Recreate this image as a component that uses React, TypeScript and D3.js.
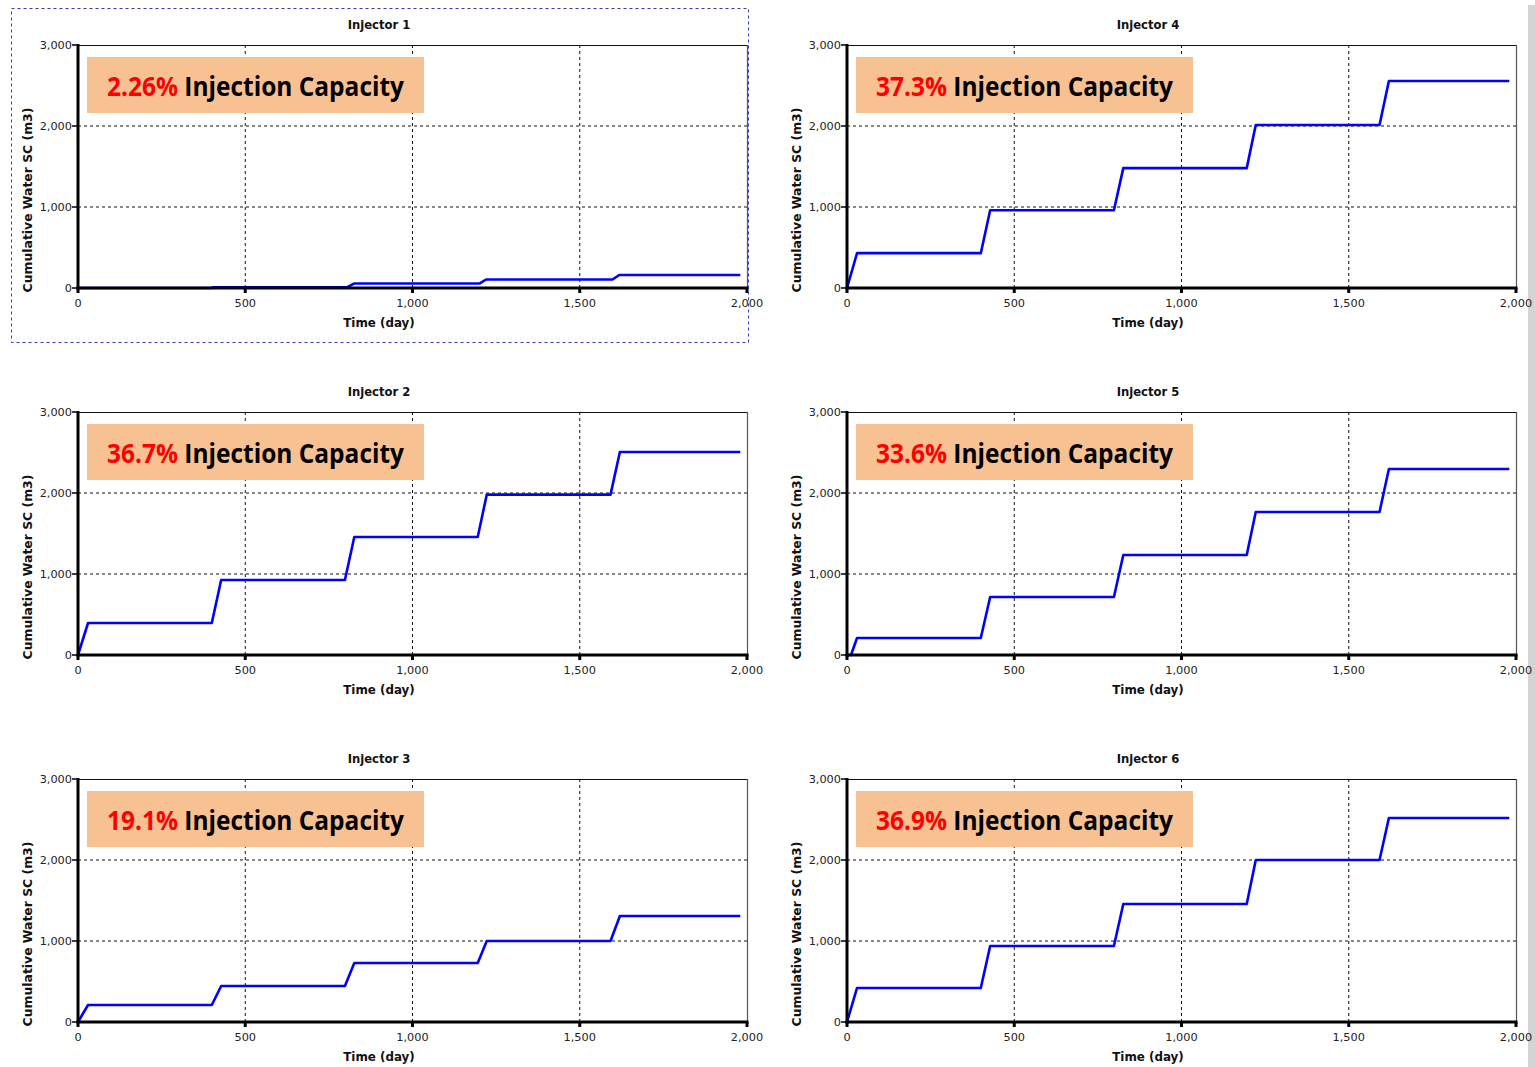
import React from "react";
import * as d3 from "d3";

type Pt = [number, number];

const injectorNames = ["Injector 1", "Injector 2", "Injector 3", "Injector 4", "Injector 5", "Injector 6"];
const capacityLabels = ["2.26%", "36.7%", "19.1%", "37.3%", "33.6%", "36.9%"];

const xTicks = [0, 500, 1000, 1500, 2000];
const yTicks = [0, 1000, 2000, 3000];
const xGrid = [500, 1000, 1500];
const yGrid = [1000, 2000];

const injector1: Pt[] = [[0, 0], [400, 0], [402, 10], [805, 10], [825, 55], [1200, 55], [1220, 105], [1598, 105], [1618, 160], [1980, 160]];
const injector2: Pt[] = [[0, 0], [30, 395], [400, 395], [428, 926], [798, 926], [826, 1457], [1195, 1457], [1222, 1980], [1592, 1980], [1620, 2506], [1980, 2506]];
const injector3: Pt[] = [[0, 0], [30, 210], [400, 210], [428, 444], [798, 444], [826, 728], [1195, 728], [1222, 1000], [1592, 1000], [1620, 1309], [1980, 1309]];
const injector4: Pt[] = [[0, 0], [30, 430], [400, 430], [428, 960], [798, 960], [826, 1480], [1195, 1480], [1222, 2012], [1592, 2012], [1620, 2555], [1980, 2555]];
const injector5: Pt[] = [[0, 0], [12, 0], [30, 210], [400, 210], [428, 716], [798, 716], [826, 1235], [1195, 1235], [1222, 1765], [1592, 1765], [1620, 2296], [1980, 2296]];
const injector6: Pt[] = [[0, 0], [30, 420], [400, 420], [428, 938], [798, 938], [826, 1457], [1195, 1457], [1222, 2000], [1592, 2000], [1620, 2519], [1980, 2519]];

const seriesList: Pt[][] = [injector1, injector2, injector3, injector4, injector5, injector6];

const fmt = d3.format(",");

function Panel({ idx }: { idx: number }) {
  const col = idx < 3 ? 0 : 1;
  const row = idx % 3;
  const x0 = col === 0 ? 78 : 847;
  const x1 = x0 + 669;
  const y0 = 45 + row * 367;
  const y1 = y0 + 243;
  const x = d3.scaleLinear().domain([0, 2000]).range([x0, x1]);
  const y = d3.scaleLinear().domain([0, 3000]).range([y1, y0]);
  const line = d3.line<Pt>().x((d) => x(d[0])).y((d) => y(d[1]));
  const cx = x0 + 301;
  const tickFont = "DejaVu Sans, Verdana, sans-serif";
  const boxX = x0 + 9;
  const boxY = y0 + 12;
  return (
    <g>
      <text x={cx} y={y0 - 16} textAnchor="middle" fontFamily={tickFont} fontWeight="bold" fontSize={11.6} fill="#111">
        {injectorNames[idx]}
      </text>
      {xGrid.map((t) => (
        <line key={"gx" + t} x1={x(t)} x2={x(t)} y1={y0} y2={y1} stroke="#111" strokeWidth={1} strokeDasharray="3,3" />
      ))}
      {yGrid.map((t) => (
        <line key={"gy" + t} x1={x0} x2={x1} y1={y(t)} y2={y(t)} stroke="#111" strokeWidth={1} strokeDasharray="3,3" />
      ))}
      <line x1={x0} x2={x1} y1={y0 + 0.5} y2={y0 + 0.5} stroke="#111" strokeWidth={1} />
      <line x1={x1 + 0.5} x2={x1 + 0.5} y1={y0} y2={y1} stroke="#555" strokeWidth={1.2} />
      <rect x={boxX} y={boxY} width={337} height={56} fill="#F8C192" />
      <text
        x={boxX + 168.5}
        y={boxY + 39}
        textAnchor="middle"
        fontFamily="Open Sans, Noto Sans, sans-serif"
        fontWeight="bold"
        fontSize={26}
        textLength={297}
        lengthAdjust="spacingAndGlyphs"
      >
        <tspan fill="#FF0000">{capacityLabels[idx]}</tspan>
        <tspan fill="#000"> Injection Capacity</tspan>
      </text>
      <path d={line(seriesList[idx]) || ""} fill="none" stroke="#0000FF" strokeWidth={2.6} strokeLinejoin="round" />
      <line x1={x0} x2={x0} y1={y0 - 1} y2={y1 + 1.5} stroke="#000" strokeWidth={3} />
      <line x1={x0 - 1.5} x2={x1 + 1.5} y1={y1} y2={y1} stroke="#000" strokeWidth={3} />
      {yTicks.map((t) => (
        <g key={"yt" + t}>
          <line x1={x0 - 6} x2={x0} y1={y(t)} y2={y(t)} stroke="#000" strokeWidth={1.5} />
          <text x={x0 - 6} y={y(t) + 4} textAnchor="end" fontFamily={tickFont} fontSize={11.3} fill="#222">
            {fmt(t)}
          </text>
        </g>
      ))}
      {xTicks.map((t) => (
        <g key={"xt" + t}>
          <line x1={x(t)} x2={x(t)} y1={y1} y2={y1 + 5} stroke="#000" strokeWidth={3} />
          <text x={x(t)} y={y1 + 19} textAnchor="middle" fontFamily={tickFont} fontSize={11.3} fill="#222">
            {fmt(t)}
          </text>
        </g>
      ))}
      <text x={cx} y={y1 + 39} textAnchor="middle" fontFamily={tickFont} fontWeight="bold" fontSize={11.9} fill="#111">
        Time (day)
      </text>
      <text
        transform={`translate(${x0 - 46},${y0 + 155}) rotate(-90)`}
        textAnchor="middle"
        fontFamily={tickFont}
        fontWeight="bold"
        fontSize={12.4}
        fill="#111"
      >
        Cumulative Water SC (m3)
      </text>
    </g>
  );
}

export default function App() {
  return (
    <svg
      width={1535}
      height={1067}
      viewBox="0 0 1535 1067"
      style={{ position: "absolute", left: 0, top: 0, background: "#fff" }}
    >
      <rect x={0} y={0} width={1535} height={1067} fill="#fff" />
      <rect x={1528} y={5} width={7} height={1062} fill="#D4D4D4" />
      {[0, 1, 2, 3, 4, 5].map((i) => (
        <Panel key={i} idx={i} />
      ))}
      <rect x={11.5} y={8.5} width={737} height={334} fill="none" stroke="#3a3ab8" strokeWidth={1} strokeDasharray="3,3" />
    </svg>
  );
}
